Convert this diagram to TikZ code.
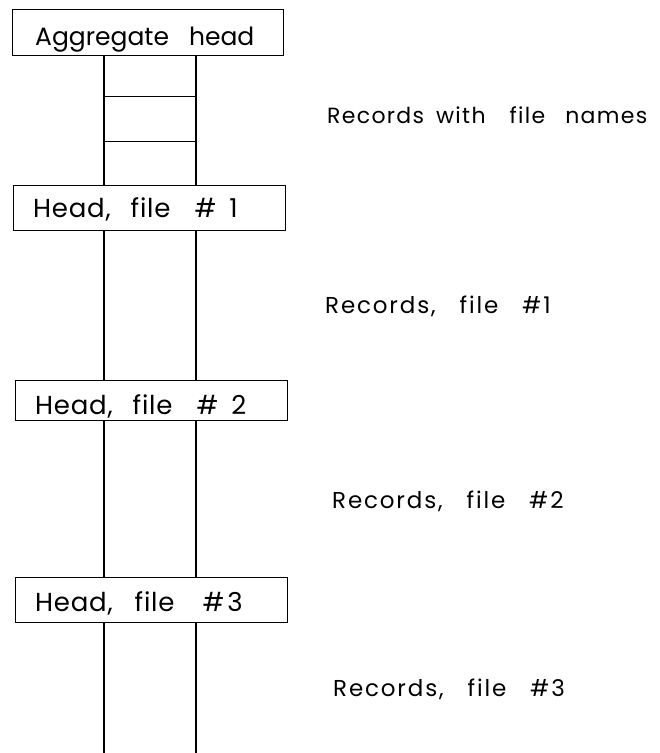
\documentclass[tikz,border=0pt]{standalone}
\usepackage{fontspec}
\setmainfont{Poppins}
\newfontfamily\wideface[LetterSpace=8]{Poppins}
\newfontfamily\midface[LetterSpace=6]{Poppins}
\newfontfamily\headface[LetterSpace=3]{Poppins}
\begin{document}
\begin{tikzpicture}[x=1pt,y=-1pt,
  headbox/.style={draw,line width=0.9pt,minimum width=272pt,minimum height=45pt,
    inner sep=0pt,anchor=north west},
  headtext/.style={anchor=base west,inner sep=0pt,font=\headface\fontsize{26}{28}\selectfont},
  rail/.style={line width=1.1pt},
  rung/.style={line width=0.9pt},
  reclabel/.style={anchor=base west,inner sep=0pt,font=\wideface\fontsize{23}{24}\selectfont}]
\useasboundingbox (0,0) rectangle (660,753);
% head boxes
\node[headbox,minimum width=271pt,minimum height=46pt] (agg) at (12,9) {};
\node[headbox] (h1) at (13,185) {};
\node[headbox,minimum height=40pt] (h2) at (15,380) {};
\node[headbox] (h3) at (15,577) {};
% head captions
\node[headtext,font=\fontsize{25}{26}\selectfont] (aggt) at (35,45) {Aggregate\hspace{20pt}head};
\node[headtext] (h1t) at (33,217) {Head,\hspace{20pt}file\hspace{24pt}\#\hspace{13pt}1};
\node[headtext] (h2t) at (35,414) {Head,\hspace{20pt}file\hspace{24pt}\#\hspace{13pt}2};
\node[headtext] (h3t) at (35,611) {Head,\hspace{22pt}file\hspace{28pt}\#\hspace{3pt}3};
% rail positions and bottom end
\coordinate (L) at (104,0);
\coordinate (R) at (196,0);
\coordinate (bot) at (0,753);
% rails between heads
\foreach \a/\b in {agg/h1,h1/h2,h2/h3}{
  \draw[rail] (\a.south -| L) -- (\b.north -| L);
  \draw[rail] (\a.south -| R) -- (\b.north -| R);
}
\draw[rail] (h3.south -| L) -- (bot -| L);
\draw[rail] (h3.south -| R) -- (bot -| R);
% record separators under the aggregate head
\coordinate (r1) at (0,96);
\coordinate (r2) at (0,141);
\draw[rung] (r1 -| L) -- (r1 -| R);
\draw[rung] (r2 -| L) -- (r2 -| R);
% labels
\node[reclabel,font=\midface\fontsize{22}{24}\selectfont] (t0) at (327,123)
  {Records\hspace{12pt}with\hspace{24pt}file\hspace{20pt}names};
\node[reclabel] (t1) at (325,313) {Records,\ \ \ file\ \ \ \#1};
\node[reclabel] (t2) at (332,508) {Records,\ \ \ file\ \ \ \#2};
\node[reclabel] (t3) at (333,696) {Records,\ \ \ file\ \ \ \#3};
\end{tikzpicture}
\end{document}
